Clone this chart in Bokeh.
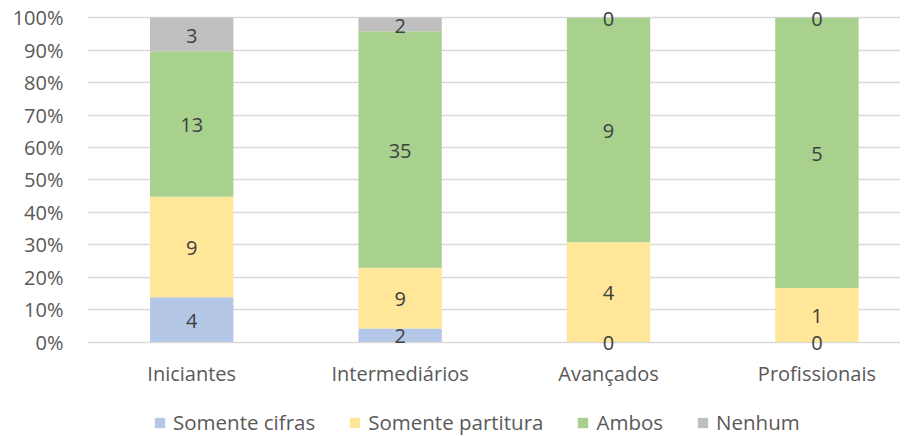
from bokeh.plotting import figure
from bokeh.models import ColumnDataSource, Range1d, FixedTicker, NumeralTickFormatter, Legend, LegendItem
from bokeh.core.properties import value
from bokeh.embed import file_html
from bokeh.resources import INLINE

categories = ["Iniciantes", "Intermediários", "Avançados", "Profissionais"]
somente_cifras = [4, 2, 0, 0]
somente_partitura = [9, 9, 4, 1]
ambos = [13, 35, 9, 5]
nenhum = [3, 2, 0, 0]
series_names = ["Somente cifras", "Somente partitura", "Ambos", "Nenhum"]
series_values = [somente_cifras, somente_partitura, ambos, nenhum]
colors = ["#B4C7E7", "#FFE699", "#A9D18E", "#BFBFBF"]
y_ticks = [0.0, 0.1, 0.2, 0.3, 0.4, 0.5, 0.6, 0.7, 0.8, 0.9, 1.0]

FONT = "Open Sans"
xs = list(range(len(categories)))
totals = [sum(v[i] for v in series_values) for i in xs]

p = figure(width=900, height=436, output_backend="svg", toolbar_location=None,
           x_range=Range1d(-0.5, 3.401), y_range=Range1d(-0.2914, 1.0534),
           min_border_left=87, min_border_right=0, min_border_top=0, min_border_bottom=0)
p.outline_line_color = None
p.background_fill_color = "white"
p.border_fill_color = "white"

cum = [0.0] * len(xs)
renderers = []
lx, ly, lt = [], [], []
for name, vals, col in zip(series_names, series_values, colors):
    fr = [vals[i] / totals[i] for i in xs]
    bottom = cum[:]
    top = [cum[i] + fr[i] for i in xs]
    src = ColumnDataSource(dict(x=xs, bottom=bottom, top=top))
    r = p.vbar(x="x", bottom="bottom", top="top", width=0.4, source=src,
               fill_color=col, line_color=None)
    renderers.append(r)
    for i in xs:
        lx.append(xs[i])
        ly.append(bottom[i] + fr[i] / 2)
        lt.append(str(vals[i]))
    cum = top

lsrc = ColumnDataSource(dict(x=lx, y=ly, t=lt))
p.text(x="x", y="y", text="t", source=lsrc, text_align="center", text_baseline="middle",
       y_offset=1, text_font=value(FONT), text_font_size="20px", text_color="#404040")

# category labels (x axis)
csrc = ColumnDataSource(dict(x=xs, y=[0.0] * len(xs), t=categories))
p.text(x="x", y="y", text="t", source=csrc, text_align="center", text_baseline="middle",
       y_offset=31, text_font=value(FONT), text_font_size="20px", text_color="#595959")
p.xaxis.visible = False

p.yaxis.ticker = FixedTicker(ticks=y_ticks)
p.yaxis.formatter = NumeralTickFormatter(format="0%")
p.yaxis.axis_line_color = None
p.yaxis.major_tick_line_color = None
p.yaxis.minor_tick_line_color = None
p.yaxis.major_label_text_font = FONT
p.yaxis.major_label_text_font_size = "20px"
p.yaxis.major_label_text_color = "#595959"
p.yaxis.major_label_standoff = 18

p.xgrid.visible = False
p.ygrid.ticker = FixedTicker(ticks=y_ticks)
p.ygrid.grid_line_color = "#D9D9D9"
p.ygrid.grid_line_width = 1.5

legend = Legend(items=[LegendItem(label=n, renderers=[r]) for n, r in zip(series_names, renderers)],
                orientation="horizontal", location=(66, 0),
                glyph_width=13, glyph_height=13, label_standoff=7, spacing=33,
                padding=0, margin=0, border_line_color=None, background_fill_alpha=0,
                label_text_font=FONT, label_text_font_size="20.5px", label_text_color="#595959")
p.add_layout(legend)

open("out.html", "w").write(file_html(p, INLINE))
